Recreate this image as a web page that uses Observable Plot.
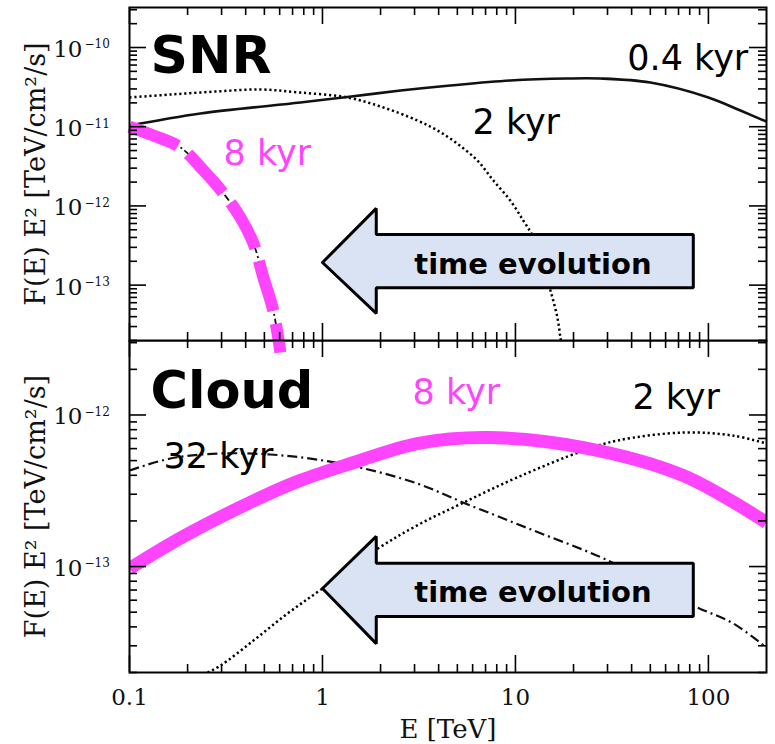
<!DOCTYPE html>
<html><head><meta charset="utf-8">
<script src="https://cdn.jsdelivr.net/npm/d3@7"></script>
<script src="https://cdn.jsdelivr.net/npm/@observablehq/plot@0.6"></script>
<style>
html,body{margin:0;padding:0;background:#fff;}
#chart{width:775px;}
#chart svg{display:block;}
#top svg{position:relative;z-index:2;overflow:visible;}
</style></head><body><div id="chart"><div id="top"></div><div id="bottom"></div></div>
<script>
// ---------- data (E in TeV, F = F(E) E^2 in TeV/cm^2/s) ----------
// SNR panel
const snr04E = [0.1, 0.233, 0.768, 1.28, 2.54, 4.6, 9.4, 18.6, 27.5, 50, 100, 146.6, 200];
const snr04F = [1.035e-11, 1.47e-11, 2.02e-11, 2.34e-11, 2.86e-11, 3.31e-11, 3.83e-11, 4.06e-11, 4.06e-11, 3.61e-11, 2.34e-11, 1.6e-11, 1.16e-11];
const snr2E = [0.1, 0.163, 0.279, 0.477, 0.768, 1.35, 2.07, 3.1, 3.95, 5.0, 6.35, 7.69, 9.4, 11.0, 12.4, 14.0, 15.2, 16.5, 17.1, 17.5];
const snr2F = [2.34e-11, 2.55e-11, 2.78e-11, 2.95e-11, 2.7e-11, 2.34e-11, 1.75e-11, 1.2e-11, 8.95e-12, 6.1e-12, 3.74e-12, 2.09e-12, 1.17e-12, 6.5e-13, 4.0e-13, 1.67e-13, 8.5e-14, 3.9e-14, 2.18e-14, 1.5e-14];
const snr8E = [0.1, 0.133, 0.184, 0.242, 0.307, 0.376, 0.439, 0.494, 0.551, 0.585, 0.605];
const snr8F = [1.0e-11, 7.74e-12, 5.46e-12, 2.8e-12, 1.44e-12, 7.1e-13, 3.35e-13, 1.25e-13, 5.2e-14, 2.45e-14, 1.41e-14];
// Cloud panel
const cl8E = [0.1, 0.19, 0.477, 0.768, 1.40, 3.1, 7.16, 22.5, 74, 200];
const cl8F = [9.7e-14, 1.58e-13, 2.85e-13, 3.7e-13, 4.78e-13, 6.48e-13, 7.1e-13, 6.1e-13, 3.99e-13, 1.95e-13];
const cl32E = [0.1, 0.163, 0.296, 0.628, 1.40, 3.1, 5.38, 12.4, 30, 83.5, 135, 200];
const cl32F = [4.3e-13, 5.16e-13, 5.57e-13, 5.4e-13, 4.64e-13, 3.53e-13, 2.64e-13, 1.73e-13, 1.1e-13, 5.53e-14, 4.2e-14, 2.92e-14];
const cl2E = [0.254, 0.296, 0.439, 0.659, 1.0, 1.93, 3.1, 5.38, 10.2, 22.5, 33.7, 74, 135, 200];
const cl2F = [2.0e-14, 2.22e-14, 3.25e-14, 4.9e-14, 7.16e-14, 1.31e-13, 1.87e-13, 2.64e-13, 3.87e-13, 5.82e-13, 6.78e-13, 7.66e-13, 7.3e-13, 6.48e-13];

// ---------- axes ----------
const xDomain = [0.1, 200];
const topYDomain = [2e-14, 3.2e-10];
const botYDomain = [2e-14, 3.1e-12];
const xMajor = [0.1, 1, 10, 100];
const xMajorLabels = ["0.1", "1", "10", "100"];
const xMinor = [0.2,0.3,0.4,0.5,0.6,0.7,0.8,0.9, 2,3,4,5,6,7,8,9, 20,30,40,50,60,70,80,90];
const topYMajor = [1e-13, 1e-12, 1e-11, 1e-10];
const topYExp = ["\u221213", "\u221212", "\u221211", "\u221210"];
const topYMinor = [2e-14,3e-14,4e-14,5e-14,6e-14,7e-14,8e-14,9e-14, 2e-13,3e-13,4e-13,5e-13,6e-13,7e-13,8e-13,9e-13,
  2e-12,3e-12,4e-12,5e-12,6e-12,7e-12,8e-12,9e-12, 2e-11,3e-11,4e-11,5e-11,6e-11,7e-11,8e-11,9e-11, 2e-10,3e-10];
const botYMajor = [1e-13, 1e-12];
const botYExp = ["\u221213", "\u221212"];
const botYMinor = [2e-14,3e-14,4e-14,5e-14,6e-14,7e-14,8e-14,9e-14, 2e-13,3e-13,4e-13,5e-13,6e-13,7e-13,8e-13,9e-13, 2e-12,3e-12];
const yTitle = "F(E) E\u00b2 [TeV/cm\u00b2/s]";
const xTitle = "E [TeV]";

// ---------- annotations ----------
const topLabelText = ["0.4 kyr", "2 kyr"];
const topLabelE = [38.0, 5.99];
const topLabelF = [5.13e-11, 8.2e-12];
const top8Label = {text: "8 kyr", E: 0.307, F: 3.24e-12};
const topTitle = {text: "SNR", E: 0.1285, F: 4.83e-11};
const botLabelText = ["2 kyr", "32 kyr"];
const botLabelE = [40.4, 0.150];
const botLabelF = [1.1e-12, 4.5e-13];
const bot8Label = {text: "8 kyr", E: 2.93, F: 1.19e-12};
const botTitle = {text: "Cloud", E: 0.1285, F: 1.12e-12};
const arrowText = "time evolution";
const arrowE = [1.0, 1.9, 1.9, 83.5, 83.5, 1.9, 1.9, 1.0];
const topArrowF = [1.93e-13, 9.3e-13, 4.35e-13, 4.35e-13, 9.3e-14, 9.3e-14, 4.4e-14, 1.93e-13];
const botArrowF = [7.16e-14, 1.58e-13, 1.05e-13, 1.05e-13, 4.68e-14, 4.68e-14, 3.1e-14, 7.16e-14];
const topArrowTextPos = {E: 12.32, F: 1.4e-13};
const botArrowTextPos = {E: 12.32, F: 5.8e-14};

const MAG = "#ff44ff";
const ARROW_FILL = "#dae3f3";
const SANS = "DejaVu Sans";
const SERIF = "DejaVu Serif";

const pts = (E, F) => E.map((e, i) => ({E: e, F: F[i]}));

const W = 775, ML = 129, MR = 9;
const innerW = W - ML - MR;

function tickMarks(innerH, yMajor, yMinor) {
  const s = {stroke: "#000", strokeWidth: 1.6};
  return [
    Plot.tickX(xMajor, {x: d => d, insetTop: innerH - 17, ...s}),
    Plot.tickX(xMajor, {x: d => d, insetBottom: innerH - 17, ...s}),
    Plot.tickX(xMinor, {x: d => d, insetTop: innerH - 8, ...s}),
    Plot.tickX(xMinor, {x: d => d, insetBottom: innerH - 8, ...s}),
    Plot.tickY(yMajor, {y: d => d, insetRight: innerW - 17, ...s}),
    Plot.tickY(yMajor, {y: d => d, insetLeft: innerW - 17, ...s}),
    Plot.tickY(yMinor, {y: d => d, insetRight: innerW - 8, ...s}),
    Plot.tickY(yMinor, {y: d => d, insetLeft: innerW - 8, ...s})
  ];
}

function yLabels(yMajor, yExp) {
  return [
    Plot.text(yMajor, {y: d => d, frameAnchor: "left", dx: -47, dy: 2, textAnchor: "end", text: () => "10",
      fontFamily: SERIF, fontSize: 23, fill: "#111"}),
    Plot.text(yMajor, {y: d => d, frameAnchor: "left", dx: -45, dy: -3, textAnchor: "start", text: (d, i) => yExp[i],
      fontFamily: SERIF, fontSize: 12, fill: "#111"}),
    Plot.text([yTitle], {frameAnchor: "left", dx: -93, rotate: -90, textAnchor: "middle", lineAnchor: "middle",
      text: d => d, fontFamily: SERIF, fontSize: 27, fill: "#111"})
  ];
}

function arrow(F, pos) {
  return [
    Plot.line(pts(arrowE, F), {x: "E", y: "F", fill: ARROW_FILL, stroke: "#000", strokeWidth: 3,
      strokeLinejoin: "miter", curve: "linear"}),
    Plot.text([arrowText], {x: () => pos.E, y: () => pos.F, text: d => d, textAnchor: "middle", lineAnchor: "bottom",
      fontFamily: SANS, fontWeight: "bold", fontSize: 29, fill: "#000"})
  ];
}

const dotted = {stroke: "#000", strokeWidth: 2.5, strokeDasharray: "2.2,2.8", strokeLinecap: "butt", curve: "catmull-rom", clip: true};

// ---------- top panel (SNR) ----------
const topH = 340, topMT = 7;
const topPlot = Plot.plot({
  width: W, height: topH, marginLeft: ML, marginRight: MR, marginTop: topMT, marginBottom: 0,
  x: {type: "log", domain: xDomain, axis: null},
  y: {type: "log", domain: topYDomain, axis: null},
  marks: [
    Plot.line(pts(snr2E, snr2F), {x: "E", y: "F", ...dotted}),
    Plot.line(pts(snr04E, snr04F), {x: "E", y: "F", stroke: "#111", strokeWidth: 2.6, curve: "catmull-rom", clip: true}),
    Plot.line(pts(snr8E, snr8F), {x: "E", y: "F", stroke: "#111", strokeWidth: 1.8, strokeDasharray: "7,3,2,3",
      strokeLinecap: "butt", curve: "catmull-rom", clip: true}),
    Plot.line(pts(snr8E, snr8F), {x: "E", y: "F", stroke: MAG, strokeWidth: 12, strokeDasharray: "52,13",
      strokeLinecap: "butt", curve: "catmull-rom"}),
    ...arrow(topArrowF, topArrowTextPos),
    Plot.text([topTitle], {x: "E", y: "F", text: "text", textAnchor: "start", lineAnchor: "bottom",
      fontFamily: SANS, fontWeight: "bold", fontSize: 52, fill: "#000"}),
    Plot.text(topLabelText, {x: (d, i) => topLabelE[i], y: (d, i) => topLabelF[i], text: d => d, textAnchor: "start",
      lineAnchor: "bottom", fontFamily: SANS, fontSize: 35, fill: "#000"}),
    Plot.text([top8Label], {x: "E", y: "F", text: "text", textAnchor: "start", lineAnchor: "bottom",
      fontFamily: SANS, fontSize: 35, fill: MAG}),
    ...tickMarks(topH - topMT, topYMajor, topYMinor),
    ...yLabels(topYMajor, topYExp),
    Plot.frame({stroke: "#000", strokeWidth: 2})
  ]
});

// ---------- bottom panel (Cloud) ----------
const botH = 404, botMB = 72;
const botPlot = Plot.plot({
  width: W, height: botH, marginLeft: ML, marginRight: MR, marginTop: 0, marginBottom: botMB,
  x: {type: "log", domain: xDomain, axis: null},
  y: {type: "log", domain: botYDomain, axis: null},
  marks: [
    Plot.line(pts(cl2E, cl2F), {x: "E", y: "F", ...dotted}),
    Plot.line(pts(cl32E, cl32F), {x: "E", y: "F", stroke: "#111", strokeWidth: 2.2, strokeDasharray: "10,4,2,4",
      strokeLinecap: "butt", curve: "catmull-rom", clip: true}),
    Plot.line(pts(cl8E, cl8F), {x: "E", y: "F", stroke: MAG, strokeWidth: 13, strokeLinecap: "butt",
      curve: "catmull-rom", clip: true}),
    ...arrow(botArrowF, botArrowTextPos),
    Plot.text([botTitle], {x: "E", y: "F", text: "text", textAnchor: "start", lineAnchor: "bottom",
      fontFamily: SANS, fontWeight: "bold", fontSize: 51, fill: "#000"}),
    Plot.text(botLabelText, {x: (d, i) => botLabelE[i], y: (d, i) => botLabelF[i], text: d => d, textAnchor: "start",
      lineAnchor: "bottom", fontFamily: SANS, fontSize: 35, fill: "#000"}),
    Plot.text([bot8Label], {x: "E", y: "F", text: "text", textAnchor: "start", lineAnchor: "bottom",
      fontFamily: SANS, fontSize: 35, fill: MAG}),
    ...tickMarks(botH - botMB, botYMajor, botYMinor),
    ...yLabels(botYMajor, botYExp),
    Plot.text(xMajor, {x: d => d, frameAnchor: "bottom", dy: 32, lineAnchor: "bottom", text: (d, i) => xMajorLabels[i],
      fontFamily: SERIF, fontSize: 23, fill: "#111"}),
    Plot.text([xTitle], {frameAnchor: "bottom", dy: 65, textAnchor: "middle", lineAnchor: "bottom", text: d => d,
      fontFamily: SERIF, fontSize: 26, fill: "#111"}),
    Plot.frame({stroke: "#000", strokeWidth: 2})
  ]
});

document.getElementById("top").appendChild(topPlot);
document.getElementById("bottom").appendChild(botPlot);
</script>
</body></html>
